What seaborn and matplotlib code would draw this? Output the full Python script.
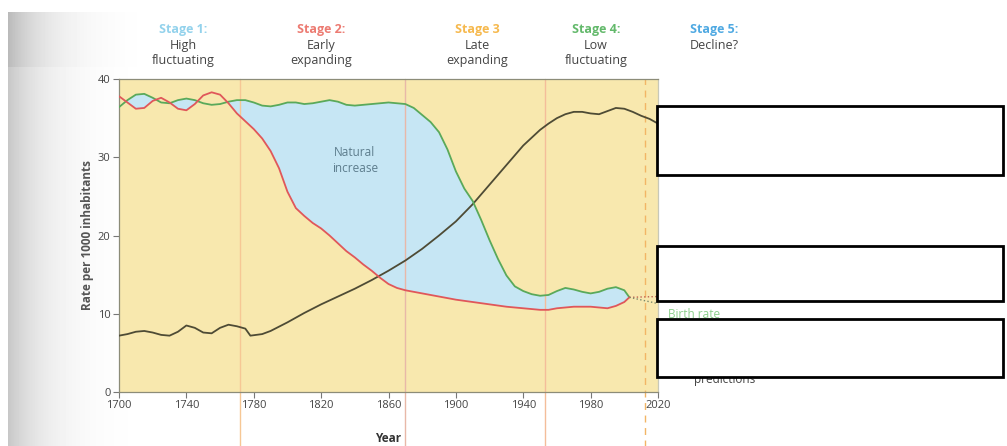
import numpy as np
import pandas as pd
import matplotlib
matplotlib.use("Agg")
import matplotlib.pyplot as plt
from matplotlib.patches import Rectangle
import seaborn as sns

# -----------------------------
# data
# -----------------------------
years = list(range(1700, 2001, 5)) + [2003]

birth_rate = [36.4, 37.3, 38.0, 38.1, 37.6, 37.0, 36.9, 37.3, 37.5, 37.3,
              36.9, 36.7, 36.8, 37.1, 37.3, 37.3, 37.0, 36.6, 36.5, 36.7,
              37.0, 37.0, 36.8, 36.9, 37.1, 37.3, 37.1, 36.7, 36.6, 36.7,
              36.8, 36.9, 37.0, 36.9, 36.8, 36.3, 35.4, 34.5, 33.2, 31.0,
              28.2, 26.0, 24.4, 22.0, 19.4, 17.0, 14.9, 13.5, 12.9, 12.5,
              12.3, 12.4, 12.9, 13.3, 13.1, 12.8, 12.6, 12.8, 13.2, 13.4,
              13.0, 12.1]

death_rate = [37.8, 37.0, 36.2, 36.3, 37.2, 37.6, 37.0, 36.2, 36.0, 36.8,
              37.9, 38.3, 38.0, 36.9, 35.6, 34.6, 33.6, 32.4, 30.8, 28.6,
              25.6, 23.5, 22.5, 21.6, 20.9, 20.0, 19.0, 18.0, 17.2, 16.3,
              15.5, 14.6, 13.8, 13.3, 13.0, 12.8, 12.6, 12.4, 12.2, 12.0,
              11.8, 11.65, 11.5, 11.35, 11.2, 11.05, 10.9, 10.8, 10.7, 10.6,
              10.5, 10.5, 10.7, 10.8, 10.9, 10.9, 10.9, 10.8, 10.7, 11.0,
              11.5, 12.1]

pop_years = [1700, 1705, 1710, 1715, 1720, 1725, 1730, 1735, 1740, 1745,
             1750, 1755, 1760, 1765, 1770, 1775, 1778, 1785, 1790, 1800,
             1810, 1820, 1830, 1840, 1850, 1860, 1870, 1880, 1890, 1900,
             1910, 1920, 1930, 1940, 1950, 1955, 1960, 1965, 1970, 1975,
             1980, 1985, 1990, 1995, 2000, 2005, 2010, 2015, 2020]
population = [7.2, 7.4, 7.7, 7.8, 7.6, 7.3, 7.2, 7.7, 8.5, 8.2,
              7.6, 7.5, 8.2, 8.6, 8.4, 8.1, 7.2, 7.4, 7.8, 8.9,
              10.1, 11.2, 12.2, 13.2, 14.3, 15.5, 16.8, 18.3, 20.0, 21.8,
              24.0, 26.5, 29.0, 31.5, 33.5, 34.3, 35.0, 35.5, 35.8, 35.8,
              35.6, 35.5, 35.9, 36.3, 36.2, 35.8, 35.3, 34.9, 34.3]

# predicted continuation (dotted)
pred_years = [2003, 2020]
pred_death = [12.1, 12.2]
pred_birth = [12.1, 11.3]

stage_bounds = [1772, 1870, 1953]
stage5_start = 2012

stage_titles = ["Stage 1:", "Stage 2:", "Stage 3", "Stage 4:", "Stage 5:"]
stage_names = ["High\nfluctuating", "Early\nexpanding", "Late\nexpanding",
               "Low\nfluctuating", "Decline?"]
stage_colors = ["#93d2ec", "#ec7b72", "#f6b94e", "#63b96b", "#4fa9e2"]
stage_x = [183, 321, 477, 596, 714]

x_ticks = list(range(1700, 2021, 40))
y_ticks = [0, 10, 20, 30, 40]

# -----------------------------
# figure
# -----------------------------
sns.set_theme(style="white")
plt.rcParams["font.family"] = ["Open Sans", "DejaVu Sans"]

W, H = 1007, 446
fig = plt.figure(figsize=(W / 100, H / 100), dpi=100)

# scanned page shading on the left
bg = fig.add_axes([8 / W, 0.0, 150 / W, (H - 12) / H])
px = np.arange(150)
py = np.arange(H - 12)[:, None]
fade = (1 - px / 149)[None, :]
shade = 1 - 0.22 * np.exp(-px / 50)[None, :] * fade
shade = shade - 0.05 * np.exp(-px / 90)[None, :] * fade * (py < 55)
bg.imshow(np.clip(shade, 0, 1), cmap="gray", vmin=0, vmax=1,
          aspect="auto", extent=[0, 1, 0, 1])
bg.axis("off")
bg.set_zorder(-5)

ax = fig.add_axes([119 / W, 54 / H, 539 / W, 313 / H])
ax.set_facecolor("#f8e8ae")

rates = pd.DataFrame({"Year": years, "Birth": birth_rate, "Death": death_rate})
pop = pd.DataFrame({"Year": pop_years, "Population": population})

ax.fill_between(rates["Year"], rates["Death"], rates["Birth"],
                where=rates["Birth"] >= rates["Death"], interpolate=True,
                color="#c6e6f4", lw=0, zorder=1)

for xb, c in zip(stage_bounds, ["#f6c795", "#e8b8a8", "#f4bd9a"]):
    ax.axvline(xb, ymin=-0.175, ymax=1, color=c, lw=1, clip_on=False, zorder=2)
ax.axvline(stage5_start, ymin=-0.175, ymax=1, color="#f2b565", lw=1,
           ls=(0, (5, 4)), clip_on=False, zorder=2)

sns.lineplot(data=pop, x="Year", y="Population", ax=ax, color="#4e4b35",
             lw=1.3, zorder=3)
sns.lineplot(data=rates, x="Year", y="Birth", ax=ax, color="#5aa95a",
             lw=1.3, zorder=4)
sns.lineplot(data=rates, x="Year", y="Death", ax=ax, color="#e0575a",
             lw=1.3, zorder=4)
ax.plot(pred_years, pred_death, color="#c0604f", lw=1, ls=":", zorder=4)
ax.plot(pred_years, pred_birth, color="#7a8a6a", lw=1, ls=":", zorder=4)

ax.text(1840, 29.6, "Natural\nincrease", ha="center", va="center",
        fontsize=8.5, color="#5d7d8d", linespacing=1.25)

ax.set_xlim(1700, 2020)
ax.set_ylim(0, 40)
ax.set_xticks(x_ticks)
ax.set_yticks(y_ticks)
ax.tick_params(axis="both", direction="out", length=4, width=0.8,
               colors="#777777", labelcolor="#444444", labelsize=8, pad=2)
ax.tick_params(axis="x", bottom=True)
ax.tick_params(axis="y", left=True)
for s in ax.spines.values():
    s.set_color("#8c8c78")
    s.set_linewidth(0.9)
ax.spines["right"].set_color("#c8c8b8")
ax.set_xlabel("Year", fontsize=8.5, fontweight="bold", color="#333333", labelpad=15)
ax.set_ylabel("Rate per 1000 inhabitants", fontsize=8.5, fontweight="bold",
              color="#555555", labelpad=3)

# stage headings
for xs, t, n, c in zip(stage_x, stage_titles, stage_names, stage_colors):
    fig.text(xs / W, 1 - 30 / H, t, ha="center", va="center", fontsize=9,
             fontweight="bold", color=c)
    fig.text(xs / W, 1 - 39 / H, n, ha="center", va="top", fontsize=9,
             color="#444444", linespacing=1.2)

# partly hidden labels on the right
fig.text(668 / W, 1 - 315 / H, "Birth rate", ha="left", va="center",
         fontsize=8.5, color="#8ccf8c")
fig.text(694 / W, 1 - 380 / H, "predictions", ha="left", va="center",
         fontsize=8.5, color="#444444")

# blank answer boxes
for y0, y1 in [(106, 175), (246, 301), (319, 377)]:
    fig.patches.append(Rectangle((657 / W, 1 - y1 / H), (1003 - 657) / W,
                                 (y1 - y0) / H, transform=fig.transFigure,
                                 facecolor="white", edgecolor="black",
                                 lw=2, zorder=10))

fig.savefig("out.png", dpi=100)
